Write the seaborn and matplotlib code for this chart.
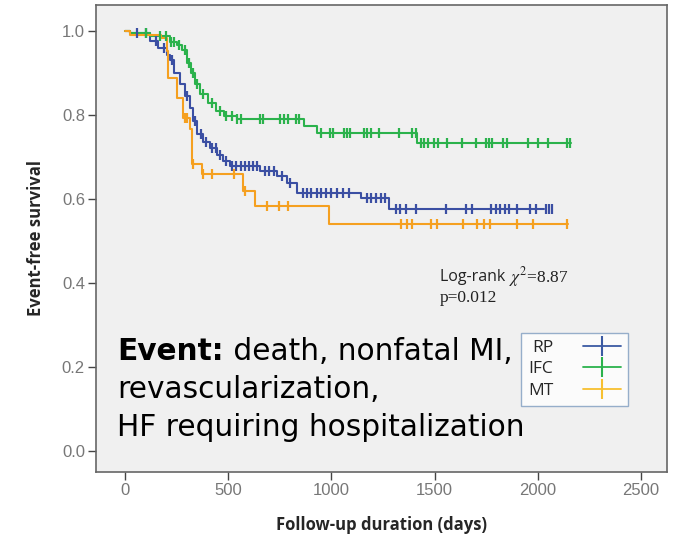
import numpy as np
import pandas as pd
import matplotlib
matplotlib.use("Agg")
import matplotlib.pyplot as plt
import seaborn as sns
from matplotlib.lines import Line2D

# ---- data ----
groups = ["RP", "IFC", "MT"]

rp_days = [0, 24, 121, 160, 202, 218, 240, 267, 290, 316, 330, 348, 380, 413, 445, 477, 510, 655, 736, 785, 834, 1141, 1278, 2029]
rp_surv = [1.0, 0.995, 0.976, 0.96, 0.944, 0.93, 0.90, 0.873, 0.845, 0.817, 0.785, 0.754, 0.735, 0.722, 0.705, 0.69, 0.678, 0.667, 0.655, 0.639, 0.615, 0.603, 0.577, 0.577]
rp_cens = [60, 100, 150, 190, 230, 300, 340, 370, 395, 420, 440, 460, 490, 520, 540, 560, 580, 600, 620, 640, 680, 700, 720, 760, 800, 860, 880, 900, 930, 950, 975, 1000, 1025, 1055, 1083,
           1170, 1190, 1215, 1240, 1260, 1311, 1330, 1360, 1408, 1553, 1650, 1680, 1775, 1795, 1815, 1840, 1860, 1900, 1960, 1990, 2040, 2055, 2070]

ifc_days = [0, 24, 121, 218, 250, 275, 300, 320, 340, 364, 400, 440, 480, 542, 866, 930, 1416, 2160]
ifc_surv = [1.0, 0.996, 0.988, 0.975, 0.968, 0.955, 0.925, 0.90, 0.875, 0.85, 0.83, 0.81, 0.798, 0.79, 0.774, 0.758, 0.734, 0.734]
ifc_cens = [100, 170, 200, 225, 240, 260, 290, 310, 330, 350, 380, 420, 460, 490, 520, 545, 560, 655, 670, 750, 770, 790, 830, 845, 950, 995, 1010, 1060, 1075, 1090,
            1156, 1172, 1190, 1230, 1325, 1392, 1408, 1432, 1450, 1470, 1495, 1515, 1560, 1630, 1700, 1750, 1765, 1780, 1830, 1850, 1950, 2000, 2050, 2140, 2155]

mt_days = [0, 24, 177, 202, 210, 251, 283, 316, 324, 372, 574, 631, 987, 2144]
mt_surv = [1.0, 0.99, 0.984, 0.952, 0.889, 0.841, 0.794, 0.766, 0.683, 0.659, 0.619, 0.583, 0.540, 0.540]
mt_cens = [290, 300, 332, 380, 420, 530, 580, 688, 745, 792, 1335, 1365, 1392, 1480, 1510, 1635, 1707, 1740, 1770, 1900, 1975, 2140]

colors = {"RP": "#3b4fa3", "IFC": "#2bb24c", "MT": "#f5a020"}
legend_colors = {"RP": "#3b5aa3", "IFC": "#2bb24c", "MT": "#f7c030"}

curves = {"RP": (rp_days, rp_surv, rp_cens), "IFC": (ifc_days, ifc_surv, ifc_cens), "MT": (mt_days, mt_surv, mt_cens)}

sns.set_theme(style="white")
plt.rcParams["font.family"] = ["Liberation Sans", "DejaVu Sans"]

fig = plt.figure(figsize=(6.76, 5.37), dpi=100)
ax = fig.add_axes([96 / 676, 1 - 471.5 / 537, (667 - 96) / 676, (471.5 - 5) / 537])
ax.set_facecolor("#f0f0f0")

def surv_at(days, surv, t):
    idx = np.searchsorted(days, t, side="right") - 1
    return surv[max(idx, 0)]

for g in groups:
    d, s, c = curves[g]
    df = pd.DataFrame({"day": d, "surv": s})
    sns.lineplot(data=df, x="day", y="surv", drawstyle="steps-post", color=colors[g],
                 linewidth=1.5, ax=ax, estimator=None, sort=False)
    cdf = pd.DataFrame({"day": c, "surv": [surv_at(d, s, t) for t in c]})
    sns.scatterplot(data=cdf, x="day", y="surv", marker="|", s=60, linewidth=1.6,
                    color=colors[g], ax=ax, zorder=3)

ax.set_xlim(-140, 2625)
ax.set_ylim(-0.048, 1.062)
ax.set_xticks([0, 500, 1000, 1500, 2000, 2500])
ax.set_yticks([0.0, 0.2, 0.4, 0.6, 0.8, 1.0])
ax.set_yticklabels(["0.0", "0.2", "0.4", "0.6", "0.8", "1.0"])
ax.tick_params(axis="both", direction="out", length=6, width=1, color="#444444",
               labelcolor="#777777", labelsize=12, bottom=True, left=True, pad=2)
for sp in ax.spines.values():
    sp.set_color("#666666")
    sp.set_linewidth(1.2)

ax.set_xlabel("Follow-up duration (days)", fontsize=12, fontweight="bold",
              family=["Open Sans", "DejaVu Sans"], labelpad=13)
ax.set_ylabel("Event-free survival", fontsize=12, fontweight="bold",
              family=["Open Sans", "DejaVu Sans"], labelpad=12)

fig.canvas.draw()
renderer = fig.canvas.get_renderer()

def text_after(prev, s, **kw):
    bb = prev.get_window_extent(renderer=renderer)
    x = bb.x1 / fig.bbox.width
    y = prev.get_position()[1]
    t = fig.text(x, y, s, **kw)
    return t

# log-rank annotation
t1 = fig.text(440 / 676, 1 - 277 / 537, "Log-rank ", fontsize=11.5, family=["Open Sans"],
              va="center", ha="left", color="#222222")
text_after(t1, r"$\chi^2$=8.87", fontsize=12.5, family=["Liberation Serif"],
           va="center", ha="left", color="#222222", math_fontfamily="stix")
fig.text(440 / 676, 1 - 298 / 537, "p=0.012", fontsize=12.5, family=["Liberation Serif"],
         va="center", ha="left", color="#222222")

# Event text
efont = ["DejaVu Sans"]
esize = 21.3
e1 = fig.text(117 / 676, 1 - 351 / 537, "Event:", fontsize=esize, fontweight="bold", family=efont,
              va="center", ha="left", color="black")
text_after(e1, " death, nonfatal MI,", fontsize=esize, family=efont,
           va="center", ha="left", color="black")
fig.text(117 / 676, 1 - 389 / 537, "revascularization,", fontsize=esize, family=efont,
         va="center", ha="left", color="black")
fig.text(117 / 676, 1 - 428 / 537, "HF requiring hospitalization", fontsize=esize, family=efont,
         va="center", ha="left", color="black")

handles = [Line2D([0], [0], color=legend_colors[g], marker="|", markersize=15, linewidth=1.3,
                  markeredgewidth=1.5) for g in groups]
leg = ax.legend(handles, groups, loc="upper left", bbox_to_anchor=((521 - 96) / 571, 1 - (333 - 5) / 466.5),
                borderaxespad=0.0,
                frameon=True, fancybox=False, handlelength=2.2, handletextpad=1.7,
                borderpad=0.4, labelspacing=0.3, markerfirst=False,
                prop={"family": ["Open Sans"], "size": 12.5})
leg.get_frame().set_edgecolor("#7f9cc0")
leg.get_frame().set_facecolor("white")
leg.get_frame().set_linewidth(1.0)
leg.set_zorder(5)

fig.savefig("out.png", dpi=100, facecolor="white")
